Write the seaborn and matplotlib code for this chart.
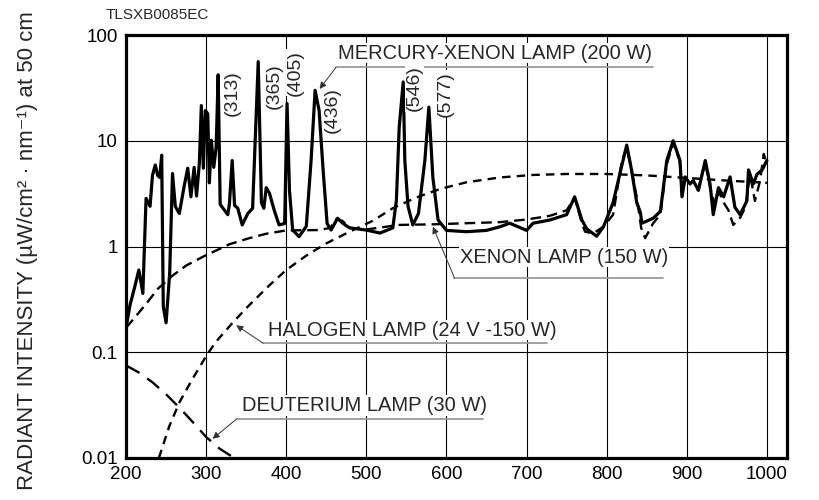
import numpy as np
import pandas as pd
import matplotlib
matplotlib.use("Agg")
import matplotlib.pyplot as plt
import seaborn as sns

# ---- data (wavelength nm, radiant intensity) ----
hgxe_nm = [200, 205, 211, 216, 221, 225, 230, 233, 236.5, 239.5, 242, 244.5, 246.5, 250,
           254.5, 258, 261.5, 266.5, 272.5, 277, 281, 285, 288, 291.5, 294, 296.5, 299,
           302, 304, 306.5, 309.5, 312.5, 315, 317.5, 327, 329, 332.5, 335.5, 339.5, 345,
           352, 358, 365, 369, 372, 375, 379, 385, 391, 398, 401, 404, 408, 416, 425, 431,
           436, 441, 446, 451, 456, 464, 471, 479, 500, 517, 533, 537.5, 541, 546, 548,
           552, 558, 565, 573, 578, 583, 589.5, 600, 625, 650, 667, 679, 700, 708, 729,
           750, 760, 769, 775, 787.5, 796, 808, 819, 825, 831, 837.5, 842, 844, 858, 867,
           875, 883, 891.5, 894, 898, 904, 908, 914.5, 923, 929, 933, 939.5, 946, 954,
           960, 966.5, 975, 977, 983, 987.5, 994, 1000]
hgxe_val = [0.17, 0.28, 0.42, 0.60, 0.36, 2.85, 2.4, 4.7, 5.9, 4.7, 4.5, 7.3, 0.27, 0.19,
            0.56, 4.9, 2.4, 2.05, 3.7, 5.5, 2.95, 5.6, 3.0, 6.1, 21.5, 5.5, 19.3,
            18, 4.0, 10.1, 5.6, 8.7, 42, 2.5, 2.0, 2.5, 6.5, 2.45, 2.3, 1.6,
            2.05, 2.3, 56, 2.6, 2.3, 3.6, 3.2, 2.2, 1.6, 1.65, 22.5, 3.4, 1.43, 1.24, 1.55, 6.5,
            30, 19.3, 5.3, 1.65, 1.43, 1.85, 1.65, 1.5, 1.43, 1.34, 1.5, 2.75, 13.5, 36, 6.5,
            2.4, 1.6, 2.05, 6.5, 20.8, 4.5, 1.78, 1.42, 1.38, 1.42, 1.54, 1.66, 1.42, 1.66, 1.78,
            2.0, 2.95, 1.78, 1.47, 1.25, 1.54, 2.6, 5.9, 9.1, 5.3, 2.6, 2.1, 1.66, 1.85, 2.15,
            6.5, 10.0, 6.5, 2.95, 4.55, 3.9, 4.2, 3.4, 6.5, 3.9, 2.0, 3.6, 2.95, 4.55,
            2.35, 2.0, 2.7, 5.3, 3.9, 4.8, 5.3, 6.5]

xenon_nm = [200, 224, 240, 258, 275, 296, 329, 354, 375, 400, 440, 455, 462, 470, 480,
            500, 541, 583, 625, 667, 700, 729, 750, 760, 769, 773, 783, 796, 808, 819,
            825, 831, 838, 843, 848, 858, 867, 875, 883, 891, 894, 898, 904, 908, 914,
            923, 929, 935, 940, 946, 952, 958, 966.5, 973, 979, 985, 991.5, 996, 1000]
xenon_val = [0.17, 0.28, 0.40, 0.53, 0.66, 0.80, 1.05, 1.2, 1.32, 1.42, 1.43, 1.5, 1.8, 1.75, 1.5,
             1.45, 1.6, 1.62, 1.66, 1.7, 1.8, 1.95, 2.2, 2.9, 1.66, 1.38, 1.33, 1.54, 2.0, 6.5,
             8.5, 5.3, 2.8, 1.5, 1.2, 1.66, 2.0, 6.0, 9.5, 6.5, 3.0, 4.5, 3.9, 4.2, 3.4,
             6.2, 3.6, 2.5, 3.3, 2.6, 2.2, 1.6, 1.87, 2.35, 4.8, 2.7, 4.2, 7.5, 6.0]

halogen_nm = [241, 254, 267, 283, 300, 312, 333, 354, 379, 400, 425, 450, 479, 508, 533,
              562, 592, 625, 667, 708, 750, 800, 850, 900, 950, 1000]
halogen_val = [0.010, 0.020, 0.034, 0.056, 0.092, 0.125, 0.19, 0.28, 0.43, 0.60, 0.82, 1.07,
               1.38, 1.75, 2.3, 2.9, 3.5, 4.05, 4.5, 4.75, 4.85, 4.85, 4.7, 4.45, 4.2, 4.0]

deut_nm = [200, 216.5, 233, 250, 266.5, 283, 300, 316.5, 335]
deut_val = [0.075, 0.064, 0.052, 0.040, 0.030, 0.022, 0.0158, 0.0123, 0.010]

lamps = ["MERCURY-XENON", "XENON", "HALOGEN", "DEUTERIUM"]

df = pd.concat([
    pd.DataFrame({"nm": hgxe_nm, "val": hgxe_val, "lamp": lamps[0]}),
    pd.DataFrame({"nm": xenon_nm, "val": xenon_val, "lamp": lamps[1]}),
    pd.DataFrame({"nm": halogen_nm, "val": halogen_val, "lamp": lamps[2]}),
    pd.DataFrame({"nm": deut_nm, "val": deut_val, "lamp": lamps[3]}),
], ignore_index=True)

# peak wavelength labels: (text, x, y)
peak_labels = [("(313)", 333, 28.5), ("(365)", 385, 33), ("(405)", 411, 44),
               ("(436)", 457, 19.3), ("(546)", 560, 31.5), ("(577)", 598, 27.8)]

# curve callouts: text, text x, text y, underline y, underline end x, arrow tip
callouts = [
    ("MERCURY-XENON LAMP (200 W)", 464, 67, 49.3, 462, 858, (441.6, 30.9)),
    ("XENON LAMP (150 W)", 617, 0.79, 0.504, 610, 870, (583, 1.54)),
    ("HALOGEN LAMP (24 V -150 W)", 377, 0.162, 0.122, 371, 726, (337.5, 0.18)),
    ("DEUTERIUM LAMP (30 W)", 345, 0.0313, 0.0234, 338, 645, (308, 0.0152)),
]

sns.set_theme(style="white")
plt.rcParams["font.family"] = ["Liberation Sans", "DejaVu Sans"]

fig = plt.figure(figsize=(8.2, 5), dpi=100)
ax = fig.add_axes([0.1537, 0.084, 0.806, 0.846])

sns.lineplot(data=df, x="nm", y="val", hue="lamp", style="lamp", size="lamp",
             palette={l: "black" for l in lamps},
             dashes={lamps[0]: "", lamps[1]: (4.5, 2.5), lamps[2]: (3.6, 2.6), lamps[3]: (6.5, 4)},
             sizes={lamps[0]: 2.3, lamps[1]: 1.7, lamps[2]: 1.7, lamps[3]: 1.7},
             estimator=None, sort=False, legend=False, ax=ax)

ax.set_yscale("log")
ax.set_xlim(200, 1025)
ax.set_ylim(0.01, 100)
ax.set_xticks(range(200, 1001, 100))
ax.set_yticks([0.01, 0.1, 1, 10, 100])
ax.set_yticklabels(["0.01", "0.1", "1", "10", "100"])
ax.minorticks_off()
ax.tick_params(axis="both", length=0, labelsize=13.5, colors="black")
ax.tick_params(axis="x", pad=6)
ax.tick_params(axis="y", pad=6)
ax.grid(True, color="black", lw=0.8)
ax.set_xlabel("")
ax.set_ylabel("")
for s in ax.spines.values():
    s.set_color("black")
    s.set_linewidth(2.3)

for txt, x, y in peak_labels:
    ax.text(x, y, txt, rotation=90, ha="center", va="center", fontsize=14,
            bbox=dict(facecolor="white", edgecolor="none", pad=0.5))

for txt, tx, ty, uy, ux0, ux1, tip in callouts:
    ax.text(tx, ty, txt, ha="left", va="center", fontsize=14.5,
            bbox=dict(facecolor="white", edgecolor="none", pad=0.5))
    ax.plot([ux0, ux1], [uy, uy], color="#9a9a9a", lw=1.3)
    ax.annotate("", xy=tip, xytext=(ux0, uy),
                arrowprops=dict(arrowstyle="-|>", color="#333333", lw=0.7,
                                mutation_scale=10, shrinkA=0, shrinkB=0))

fig.text(106 / 820, 1 - 15 / 500, "TLSXB0085EC", fontsize=11, ha="left", va="center")
fig.text(28 / 820, 0.498, "RADIANT INTENSITY (µW/cm² · nm⁻¹) at 50 cm",
         rotation=90, ha="center", va="center", fontsize=16)

fig.savefig("out.png", dpi=100)
